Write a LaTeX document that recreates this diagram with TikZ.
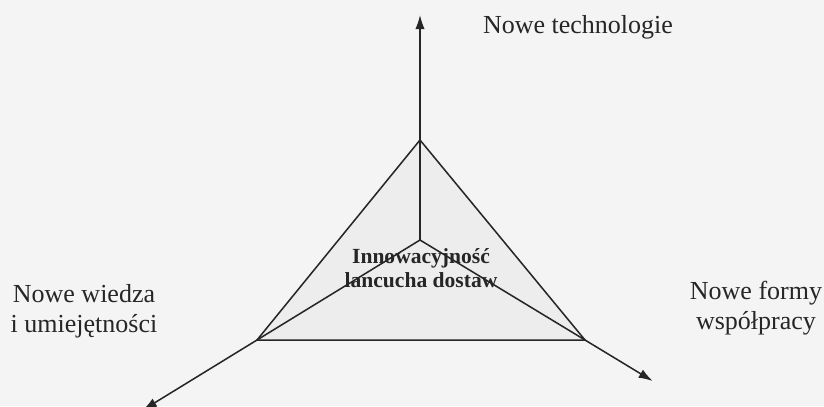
\documentclass[tikz,border=0pt]{standalone}
\usepackage{fontspec}
\setmainfont{Liberation Serif}
\usepackage{tikz}
\usetikzlibrary{arrows.meta, calc}
\definecolor{inkgray}{HTML}{262626}
\definecolor{paper}{HTML}{F4F4F4}

\begin{document}
\begin{tikzpicture}[x=0.03cm, y=-0.03cm]
  \tikzset{axisline/.style={draw=inkgray, line width=1.3pt},
           axisarrow/.style={axisline, -{Latex[length=12pt, width=8pt]}},
           dimlabel/.style={text=inkgray, align=center, inner sep=0pt,
                            font=\fontsize{22.2}{25.6}\selectfont},
           corelabel/.style={text=inkgray, align=center, inner sep=0pt,
                             font=\fontsize{18.4}{20.5}\selectfont\bfseries}}

  % page
  \fill[paper] (0,0) rectangle (824,406);
  \useasboundingbox (0,0) rectangle (824,406);

  % triangle corners and centre
  \coordinate (mid) at (420,240);
  \coordinate (apex) at (420,140);
  \coordinate (bl) at (257,340);
  \coordinate (br) at (585,340);
  % arrow ends
  \coordinate (toptip) at (420,15);
  \coordinate (lefttip) at ($(mid)!1.70!(bl)$);
  \coordinate (righttip) at ($(mid)!1.41!(br)$);

  % triangle
  \filldraw[axisline, fill=gray!14] (apex) -- (br) -- (bl) -- cycle;

  % three axes
  \draw[axisarrow] (mid) -- (toptip);
  \draw[axisarrow] (mid) -- (lefttip);
  \draw[axisarrow] (mid) -- (righttip);

  % labels
  \node[corelabel] (core) at (421,268) {Innowacyjność\\lancucha dostaw};
  \node[dimlabel] (tech) at (578,27) {Nowe technologie};
  \node[dimlabel] (know) at (84,311) {Nowe wiedza\\i umiejętności};
  \node[dimlabel] (coop) at (756,308) {Nowe formy\\współpracy};
\end{tikzpicture}
\end{document}
